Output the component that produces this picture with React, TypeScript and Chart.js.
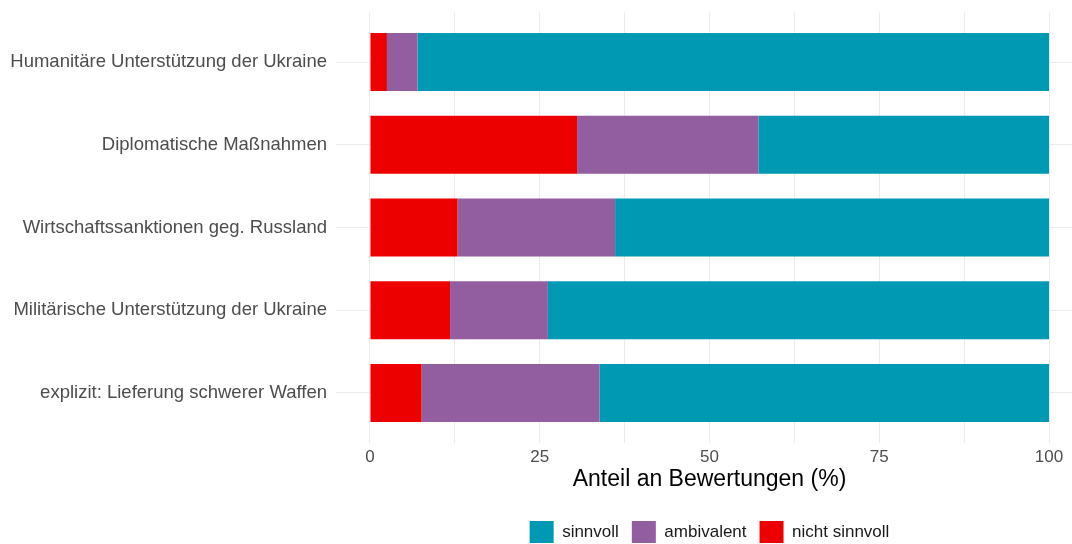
import React, { useEffect, useRef } from "react";
import { Chart, registerables } from "chart.js";

Chart.register(...registerables);

const categories = [
  "Humanitäre Unterstützung der Ukraine",
  "Diplomatische Maßnahmen",
  "Wirtschaftssanktionen geg. Russland",
  "Militärische Unterstützung der Ukraine",
  "explizit: Lieferung schwerer Waffen",
];
const nichtSinnvoll = [2.5, 30.5, 12.9, 11.8, 7.6];
const ambivalent = [4.5, 26.7, 23.2, 14.4, 26.2];
const sinnvoll = [93.0, 42.8, 63.9, 73.8, 66.2];
const seriesNames = ["nicht sinnvoll", "ambivalent", "sinnvoll"];
const seriesColors = ["#ED0000", "#925E9F", "#0099B4"];
const xTickValues = [0, 12.5, 25, 37.5, 50, 62.5, 75, 87.5, 100];
const xTickLabels = ["0", "", "25", "", "50", "", "75", "", "100"];
const xTitle = "Anteil an Bewertungen (%)";

const FONT = "'Liberation Sans', Arial, Helvetica, sans-serif";

export default function App() {
  const ref = useRef<HTMLCanvasElement | null>(null);

  useEffect(() => {
    if (!ref.current) return;
    const series = [nichtSinnvoll, ambivalent, sinnvoll];
    const chart = new Chart(ref.current, {
      type: "bar",
      data: {
        datasets: series.map((vals, si) => ({
          label: seriesNames[si],
          data: vals.map((v, i) => ({ x: v, y: i })),
          backgroundColor: seriesColors[si],
          borderWidth: 0,
          barPercentage: 0.7,
          categoryPercentage: 1,
        })),
      },
      options: {
        indexAxis: "y",
        responsive: false,
        animation: false,
        layout: { padding: { top: 12.4, left: 0, right: 0, bottom: 0 } },
        scales: {
          x: {
            type: "linear",
            stacked: true,
            min: -5,
            max: 105,
            offset: false,
            afterBuildTicks: (s: any) => {
              s.ticks = xTickValues.map((v) => ({ value: v }));
            },
            afterFit: (s: any) => {
              s.height = 65.4;
              s.paddingLeft = 0;
              s.paddingRight = 0;
            },
            grid: { color: "#EBEBEB", lineWidth: 1, drawTicks: false, offset: false },
            border: { display: false },
            ticks: {
              padding: 5,
              color: "#4D4D4D",
              autoSkip: false,
              maxRotation: 0,
              font: { family: FONT, size: 17 },
              callback: (v: any) => {
                const i = xTickValues.indexOf(Number(v));
                return i >= 0 ? xTickLabels[i] : "";
              },
            },
            title: {
              display: true,
              text: xTitle,
              color: "#000000",
              font: { family: FONT, size: 23 },
              padding: { top: 0, bottom: 14.3 },
            },
          },
          y: {
            type: "linear",
            stacked: true,
            reverse: true,
            min: -0.6,
            max: 4.6,
            offset: false,
            afterBuildTicks: (s: any) => {
              s.ticks = categories.map((_, i) => ({ value: i }));
            },
            afterFit: (s: any) => {
              s.width = 336;
              s.paddingTop = 0;
              s.paddingBottom = 0;
            },
            grid: { color: "#EBEBEB", lineWidth: 1, drawTicks: false, offset: false },
            border: { display: false },
            ticks: {
              padding: 9,
              color: "#4D4D4D",
              autoSkip: false,
              font: { family: FONT, size: 18.5 },
              callback: (v: any) => categories[Number(v)] ?? "",
            },
          },
        },
        plugins: {
          legend: {
            position: "bottom",
            fullSize: false,
            reverse: true,
            labels: {
              boxWidth: 24,
              boxHeight: 22,
              padding: 13,
              color: "#1A1A1A",
              font: { family: FONT, size: 17 },
            },
          },
          tooltip: { enabled: false },
        },
      },
    } as any);
    return () => chart.destroy();
  }, []);

  return (
    <div
      style={{
        position: "fixed",
        left: 0,
        top: 0,
        width: 1072,
        height: 544,
        overflow: "hidden",
        background: "#ffffff",
      }}
    >
      <canvas ref={ref} width={1083} height={553} style={{ display: "block" }} />
    </div>
  );
}
